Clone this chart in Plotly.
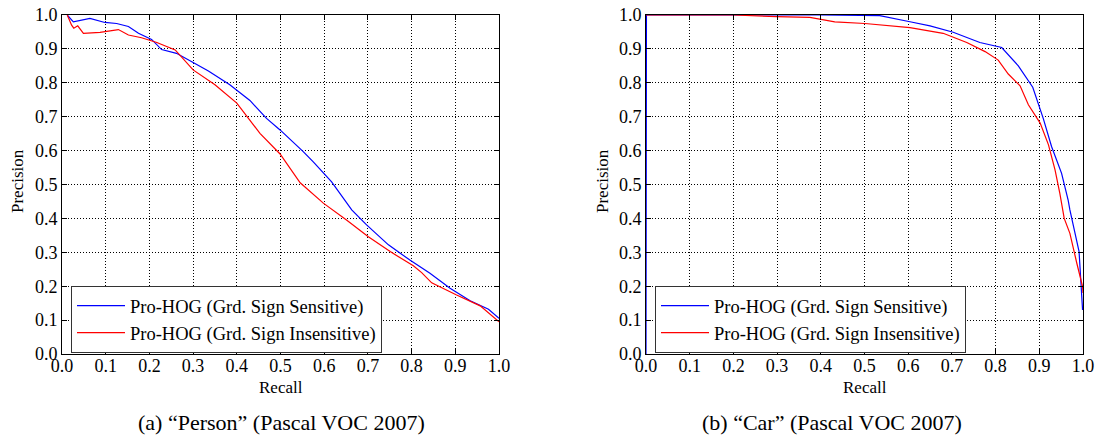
import plotly.graph_objects as go

# ---- data ----
person_sens_recall = [0.012, 0.026, 0.064, 0.098, 0.125, 0.152, 0.175, 0.205, 0.228, 0.262, 0.297, 0.335,
                      0.384, 0.430, 0.468, 0.499, 0.552, 0.575, 0.617, 0.663, 0.697, 0.747, 0.796, 0.842,
                      0.888, 0.934, 0.976, 1.0]
person_sens_prec = [1.0, 0.980, 0.990, 0.978, 0.975, 0.966, 0.946, 0.928, 0.898, 0.887, 0.862, 0.835,
                    0.794, 0.748, 0.695, 0.661, 0.597, 0.567, 0.508, 0.425, 0.381, 0.322, 0.277, 0.238,
                    0.194, 0.157, 0.132, 0.105]
person_insens_recall = [0.012, 0.022, 0.027, 0.036, 0.049, 0.087, 0.129, 0.152, 0.182, 0.217, 0.259, 0.300,
                        0.350, 0.400, 0.453, 0.499, 0.545, 0.598, 0.651, 0.701, 0.751, 0.804, 0.823, 0.846,
                        0.903, 0.957, 1.0]
person_insens_prec = [1.0, 0.970, 0.961, 0.968, 0.946, 0.949, 0.957, 0.941, 0.933, 0.919, 0.897, 0.838,
                      0.794, 0.740, 0.651, 0.590, 0.505, 0.445, 0.395, 0.346, 0.302, 0.260, 0.240, 0.210,
                      0.174, 0.142, 0.095]

car_sens_recall = [0.0, 0.001, 0.40, 0.535, 0.604, 0.650, 0.703, 0.764, 0.814, 0.852, 0.885, 0.909,
                   0.928, 0.951, 0.966, 0.970, 0.991, 0.999]
car_sens_prec = [0.0, 1.0, 1.0, 0.998, 0.980, 0.968, 0.949, 0.919, 0.904, 0.850, 0.787, 0.695,
                 0.612, 0.533, 0.454, 0.425, 0.302, 0.13]
car_insens_recall = [0.0, 0.2, 0.299, 0.375, 0.432, 0.501, 0.604, 0.680, 0.734, 0.776, 0.806, 0.829,
                     0.856, 0.875, 0.902, 0.921, 0.936, 0.947, 0.957, 0.970, 0.986, 0.999, 1.0]
car_insens_prec = [1.0, 1.0, 0.995, 0.993, 0.980, 0.975, 0.963, 0.946, 0.919, 0.892, 0.867, 0.826,
                   0.791, 0.735, 0.681, 0.617, 0.543, 0.474, 0.400, 0.356, 0.267, 0.199, 0.18]

tick_vals = [0.0, 0.1, 0.2, 0.3, 0.4, 0.5, 0.6, 0.7, 0.8, 0.9, 1.0]
tick_text = ["0.0", "0.1", "0.2", "0.3", "0.4", "0.5", "0.6", "0.7", "0.8", "0.9", "1.0"]
name_sens = "Pro-HOG (Grd. Sign Sensitive)"
name_insens = "Pro-HOG (Grd. Sign Insensitive)"
captions = ["(a) \u201cPerson\u201d (Pascal VOC 2007)", "(b) \u201cCar\u201d (Pascal VOC 2007)"]

# page body margin is removed by a post script, so the figure fills the window exactly
FW, FH = 1099, 441
FONT = "Liberation Serif, Times New Roman, serif"

def X(px):
    return px / FW

def Y(py):
    return 1 - py / FH

fig = go.Figure()
fig.add_trace(go.Scatter(x=person_sens_recall, y=person_sens_prec, mode="lines", name=name_sens,
                         line=dict(color="#0000ff", width=1.2), xaxis="x", yaxis="y", legend="legend"))
fig.add_trace(go.Scatter(x=person_insens_recall, y=person_insens_prec, mode="lines", name=name_insens,
                         line=dict(color="#ff0000", width=1.2), xaxis="x", yaxis="y", legend="legend"))
fig.add_trace(go.Scatter(x=car_sens_recall, y=car_sens_prec, mode="lines", name=name_sens,
                         line=dict(color="#0000ff", width=1.2), xaxis="x2", yaxis="y2", legend="legend2"))
fig.add_trace(go.Scatter(x=car_insens_recall, y=car_insens_prec, mode="lines", name=name_insens,
                         line=dict(color="#ff0000", width=1.2), xaxis="x2", yaxis="y2", legend="legend2"))

ydom = [Y(354), Y(15)]
doms = [[X(62), X(499)], [X(646), X(1083)]]

def axis_common(standoff):
    return dict(range=[0, 1], tickvals=tick_vals, ticktext=tick_text, ticks="inside", ticklen=5,
                tickcolor="black", showline=True, linecolor="black", linewidth=1, mirror="ticks",
                showgrid=True, gridcolor="black", gridwidth=1, griddash="1px,2px", zeroline=False,
                automargin=False, ticklabelstandoff=standoff, ticklabeloverflow="allow",
                tickfont=dict(family=FONT, size=18, color="black"), fixedrange=True)

legend_style = dict(xanchor="left", yanchor="top", bgcolor="white", bordercolor="#333333",
                    borderwidth=1, font=dict(family=FONT, size=18.5, color="black"), tracegroupgap=0,
                    itemwidth=48)

fig.update_layout(
    width=FW, height=FH, margin=dict(l=0, r=0, t=0, b=0, autoexpand=False),
    paper_bgcolor="white", plot_bgcolor="white",
    font=dict(family=FONT, color="black"),
    xaxis=dict(domain=doms[0], anchor="y", **axis_common(-5)),
    yaxis=dict(domain=ydom, anchor="x", **axis_common(0)),
    xaxis2=dict(domain=doms[1], anchor="y2", **axis_common(-5)),
    yaxis2=dict(domain=ydom, anchor="x2", **axis_common(0)),
    legend=dict(x=X(71), y=Y(286), **legend_style),
    legend2=dict(x=X(655), y=Y(286), **legend_style),
    showlegend=True,
)

for cx in [(62 + 499) / 2, (646 + 1083) / 2]:
    fig.add_annotation(text="Recall", x=X(cx), y=Y(387), xref="paper", yref="paper",
                       showarrow=False, font=dict(family=FONT, size=17, color="black"),
                       xanchor="center", yanchor="middle")
for px in [18, 603]:
    fig.add_annotation(text="Precision", x=X(px), y=Y(181), xref="paper", yref="paper",
                       showarrow=False, textangle=-90, font=dict(family=FONT, size=17, color="black"),
                       xanchor="center", yanchor="middle")
for cap, cx in zip(captions, [281, 832]):
    fig.add_annotation(text=cap, x=X(cx), y=Y(422), xref="paper", yref="paper",
                       showarrow=False, font=dict(family=FONT, size=22, color="black"),
                       xanchor="center", yanchor="middle")

fig.write_html("out.html", config={"displayModeBar": False, "staticPlot": True},
               post_script="document.documentElement.style.margin='0';document.body.style.margin='0';"
                           "document.body.style.overflow='hidden';")
